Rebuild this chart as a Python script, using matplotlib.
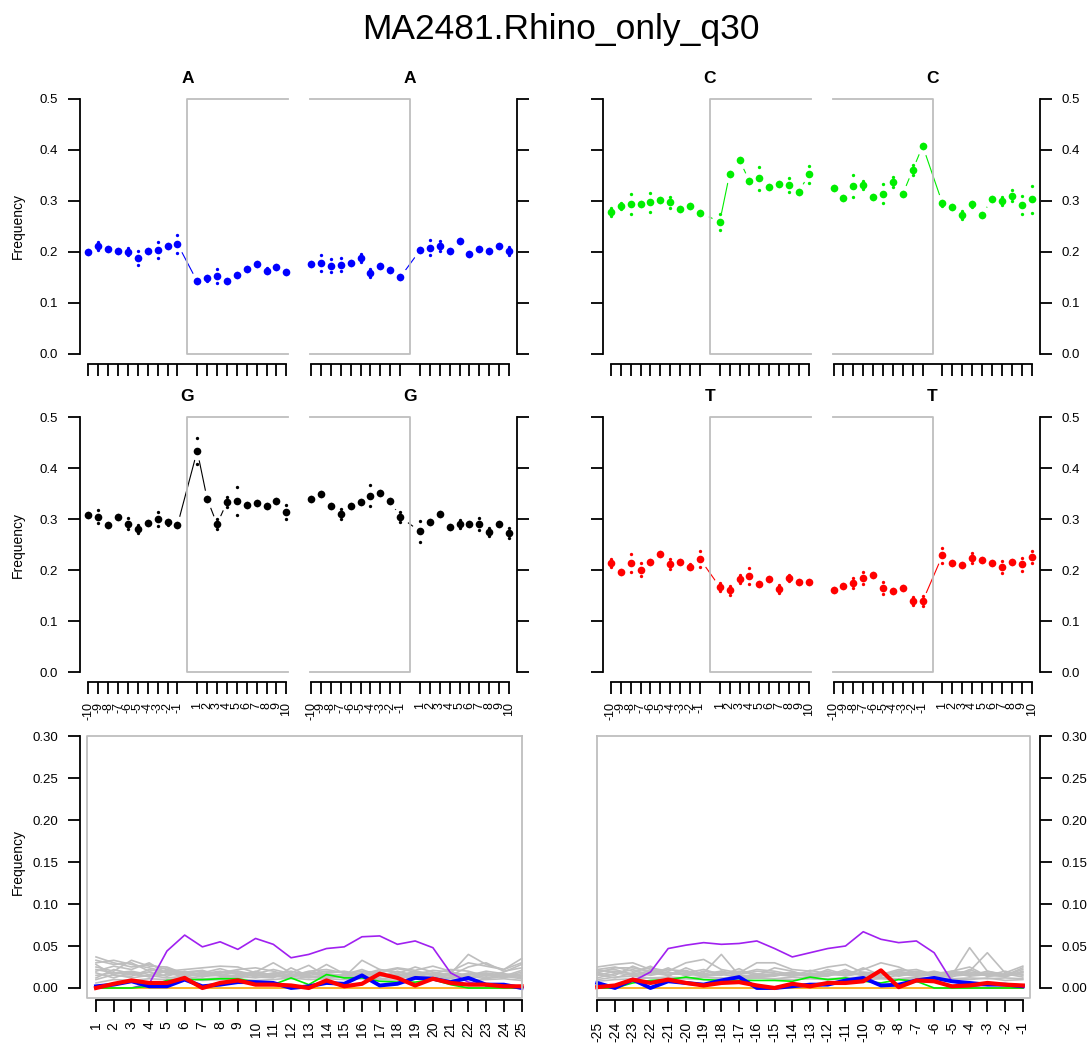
import matplotlib.pyplot as plt
import numpy as np

plt.rcParams['font.family'] = ['Liberation Sans', 'DejaVu Sans']

# ---- data: motif start / end windows (-10..-1, 1..10) ----
A_start = [0.200,0.212,0.206,0.202,0.200,0.188,0.201,0.204,0.212,0.216,
           0.142,0.148,0.152,0.143,0.154,0.167,0.176,0.163,0.171,0.161]
A_start_err = [0.004,0.008,0.004,0.004,0.007,0.013,0.004,0.016,0.004,0.018,
               0.004,0.005,0.014,0.004,0.004,0.004,0.004,0.005,0.004,0.004]
A_end = [0.176,0.178,0.173,0.175,0.178,0.188,0.159,0.173,0.164,0.150,
         0.203,0.208,0.212,0.201,0.222,0.196,0.206,0.201,0.211,0.201]
A_end_err = [0.004,0.015,0.013,0.013,0.004,0.008,0.008,0.004,0.004,0.004,
             0.004,0.015,0.010,0.004,0.004,0.004,0.004,0.004,0.004,0.008]

C_start = [0.279,0.290,0.294,0.294,0.297,0.302,0.297,0.284,0.290,0.277,
           0.259,0.353,0.380,0.339,0.344,0.328,0.333,0.331,0.318,0.352]
C_start_err = [0.008,0.006,0.020,0.004,0.018,0.004,0.011,0.004,0.004,0.004,
               0.016,0.004,0.004,0.004,0.023,0.004,0.004,0.013,0.004,0.017]
C_end = [0.326,0.305,0.329,0.331,0.308,0.314,0.337,0.314,0.361,0.408,
         0.295,0.288,0.272,0.293,0.273,0.303,0.300,0.310,0.292,0.303]
C_end_err = [0.004,0.004,0.021,0.008,0.004,0.019,0.010,0.004,0.010,0.004,
             0.004,0.004,0.008,0.004,0.004,0.004,0.008,0.011,0.018,0.027]

G_start = [0.308,0.305,0.289,0.305,0.291,0.281,0.293,0.300,0.294,0.288,
           0.434,0.340,0.290,0.333,0.336,0.327,0.331,0.325,0.336,0.314]
G_start_err = [0.004,0.012,0.004,0.004,0.011,0.008,0.004,0.013,0.005,0.004,
               0.025,0.004,0.010,0.010,0.027,0.004,0.004,0.004,0.004,0.013]
G_end = [0.339,0.349,0.325,0.310,0.325,0.333,0.346,0.351,0.336,0.304,
         0.276,0.295,0.310,0.284,0.290,0.290,0.291,0.275,0.290,0.273]
G_end_err = [0.004,0.004,0.004,0.010,0.004,0.004,0.020,0.004,0.004,0.010,
             0.020,0.004,0.004,0.004,0.008,0.004,0.012,0.008,0.004,0.010]

T_start = [0.214,0.196,0.214,0.201,0.216,0.232,0.212,0.216,0.207,0.222,
           0.167,0.160,0.182,0.188,0.172,0.182,0.163,0.185,0.177,0.176]
T_start_err = [0.008,0.004,0.017,0.012,0.004,0.004,0.010,0.004,0.004,0.015,
               0.008,0.008,0.008,0.016,0.004,0.004,0.008,0.006,0.004,0.004]
T_end = [0.161,0.169,0.175,0.184,0.190,0.165,0.159,0.165,0.139,0.139,
         0.229,0.214,0.210,0.223,0.219,0.214,0.206,0.216,0.211,0.226]
T_end_err = [0.004,0.004,0.010,0.012,0.004,0.012,0.004,0.004,0.008,0.010,
             0.015,0.004,0.004,0.010,0.004,0.004,0.012,0.004,0.013,0.012]

win_labels = [str(i) for i in range(-10, 0)] + [str(i) for i in range(1, 11)]

# ---- data: bottom panel, 25 positions after start / before end ----
after_labels = [str(i) for i in range(1, 26)]
before_labels = [str(i) for i in range(-25, 0)]

purple_after = [0.000,0.000,0.000,0.005,0.044,0.063,0.049,0.055,0.046,0.059,0.052,0.036,0.040,
                0.047,0.049,0.061,0.062,0.052,0.056,0.048,0.018,0.007,0.003,0.001,0.001]
green_after = [0.000,0.000,0.000,0.002,0.009,0.010,0.010,0.011,0.011,0.007,0.004,0.012,0.004,
               0.016,0.012,0.012,0.008,0.007,0.007,0.010,0.004,0.000,0.000,0.000,0.000]
blue_after = [0.002,0.004,0.008,0.002,0.002,0.010,0.002,0.004,0.007,0.007,0.006,0.000,0.002,
              0.006,0.005,0.015,0.003,0.005,0.012,0.011,0.007,0.012,0.004,0.004,0.000]
red_after = [0.000,0.005,0.009,0.006,0.006,0.012,0.000,0.006,0.009,0.004,0.004,0.003,0.000,
             0.009,0.002,0.005,0.017,0.012,0.003,0.011,0.006,0.004,0.004,0.002,0.002]
orange_after = [0.0] * 25

purple_before = [0.000,0.000,0.008,0.019,0.047,0.051,0.054,0.052,0.053,0.056,0.047,0.037,0.042,
                 0.047,0.050,0.067,0.058,0.054,0.056,0.042,0.008,0.002,0.000,0.000,0.000]
green_before = [0.000,0.000,0.006,0.009,0.010,0.013,0.010,0.009,0.009,0.009,0.009,0.008,0.013,
                0.010,0.012,0.008,0.006,0.010,0.008,0.000,0.000,0.000,0.000,0.000,0.000]
blue_before = [0.006,0.000,0.010,0.000,0.008,0.006,0.004,0.009,0.013,0.000,0.000,0.002,0.004,
               0.004,0.009,0.012,0.003,0.004,0.009,0.012,0.008,0.006,0.004,0.004,0.002]
red_before = [0.001,0.003,0.010,0.006,0.010,0.006,0.003,0.006,0.007,0.003,0.000,0.005,0.002,
              0.006,0.006,0.008,0.021,0.001,0.009,0.008,0.002,0.003,0.006,0.004,0.003]
orange_before = [0.0] * 25

gray_after = [
    [0.037,0.030,0.025,0.028,0.022,0.018,0.020,0.016,0.018,0.015,0.014,0.016,0.013,0.015,0.014,0.017,0.015,0.016,0.018,0.015,0.017,0.040,0.028,0.022,0.035],
    [0.030,0.033,0.028,0.024,0.019,0.015,0.017,0.020,0.016,0.019,0.030,0.018,0.027,0.014,0.013,0.033,0.022,0.017,0.025,0.019,0.015,0.025,0.030,0.020,0.024],
    [0.025,0.020,0.033,0.026,0.025,0.017,0.013,0.018,0.022,0.024,0.020,0.014,0.016,0.028,0.017,0.020,0.018,0.023,0.019,0.016,0.012,0.018,0.016,0.014,0.021],
    [0.020,0.026,0.022,0.030,0.017,0.019,0.021,0.015,0.020,0.016,0.017,0.020,0.015,0.018,0.020,0.016,0.022,0.019,0.016,0.021,0.019,0.015,0.020,0.017,0.015],
    [0.015,0.018,0.020,0.016,0.021,0.016,0.018,0.023,0.017,0.014,0.018,0.016,0.019,0.017,0.015,0.018,0.016,0.014,0.020,0.017,0.022,0.020,0.014,0.019,0.028],
    [0.012,0.022,0.017,0.019,0.014,0.020,0.015,0.017,0.013,0.020,0.015,0.013,0.017,0.020,0.018,0.014,0.013,0.020,0.014,0.013,0.016,0.013,0.017,0.012,0.017],
    [0.028,0.015,0.014,0.022,0.018,0.013,0.019,0.014,0.015,0.017,0.022,0.017,0.012,0.016,0.012,0.015,0.017,0.012,0.015,0.018,0.014,0.017,0.012,0.016,0.012],
    [0.018,0.012,0.019,0.013,0.016,0.018,0.016,0.019,0.020,0.013,0.012,0.024,0.014,0.013,0.016,0.022,0.014,0.016,0.013,0.014,0.018,0.012,0.015,0.013,0.019],
    [0.010,0.016,0.012,0.015,0.012,0.014,0.011,0.012,0.014,0.012,0.015,0.011,0.013,0.012,0.014,0.012,0.011,0.013,0.012,0.011,0.013,0.014,0.011,0.014,0.011],
    [0.033,0.028,0.030,0.020,0.024,0.016,0.014,0.015,0.012,0.016,0.013,0.015,0.018,0.015,0.013,0.013,0.015,0.014,0.017,0.012,0.012,0.016,0.018,0.015,0.014],
    [0.006,0.010,0.009,0.011,0.010,0.012,0.009,0.010,0.011,0.009,0.010,0.012,0.010,0.011,0.010,0.011,0.010,0.009,0.011,0.010,0.011,0.009,0.010,0.011,0.009],
    [0.022,0.018,0.016,0.014,0.020,0.022,0.024,0.026,0.025,0.018,0.016,0.014,0.020,0.022,0.018,0.017,0.020,0.024,0.021,0.026,0.020,0.030,0.026,0.022,0.030],
]
gray_before = [
    [0.025,0.028,0.030,0.022,0.018,0.016,0.018,0.040,0.015,0.014,0.017,0.016,0.014,0.018,0.015,0.017,0.016,0.019,0.016,0.020,0.015,0.048,0.020,0.015,0.022],
    [0.022,0.025,0.020,0.024,0.020,0.030,0.034,0.022,0.018,0.030,0.030,0.022,0.020,0.025,0.028,0.018,0.015,0.020,0.022,0.016,0.018,0.020,0.042,0.018,0.026],
    [0.018,0.015,0.026,0.018,0.022,0.020,0.015,0.018,0.017,0.022,0.020,0.016,0.018,0.016,0.017,0.022,0.030,0.025,0.016,0.018,0.017,0.015,0.020,0.016,0.018],
    [0.015,0.020,0.017,0.020,0.016,0.018,0.022,0.016,0.020,0.017,0.016,0.019,0.016,0.020,0.014,0.019,0.017,0.016,0.020,0.017,0.020,0.017,0.015,0.020,0.015],
    [0.012,0.017,0.022,0.015,0.019,0.015,0.017,0.020,0.016,0.020,0.018,0.014,0.021,0.017,0.018,0.015,0.014,0.020,0.015,0.019,0.016,0.019,0.017,0.013,0.020],
    [0.020,0.022,0.016,0.018,0.015,0.021,0.014,0.016,0.014,0.016,0.014,0.018,0.015,0.014,0.020,0.016,0.019,0.014,0.018,0.014,0.013,0.022,0.014,0.017,0.013],
    [0.010,0.013,0.014,0.012,0.013,0.012,0.013,0.012,0.013,0.012,0.011,0.013,0.012,0.011,0.012,0.013,0.012,0.011,0.013,0.012,0.011,0.012,0.011,0.012,0.011],
    [0.016,0.012,0.018,0.026,0.014,0.024,0.016,0.015,0.023,0.013,0.016,0.014,0.017,0.016,0.015,0.024,0.015,0.017,0.014,0.016,0.014,0.016,0.018,0.015,0.016],
    [0.022,0.018,0.015,0.016,0.024,0.014,0.020,0.017,0.012,0.015,0.024,0.020,0.013,0.015,0.022,0.014,0.012,0.015,0.017,0.015,0.018,0.014,0.016,0.014,0.019],
    [0.008,0.010,0.011,0.012,0.010,0.011,0.010,0.011,0.010,0.012,0.011,0.010,0.011,0.010,0.011,0.010,0.011,0.010,0.011,0.010,0.011,0.010,0.012,0.009,0.010],
    [0.018,0.024,0.024,0.020,0.016,0.018,0.013,0.020,0.014,0.012,0.015,0.017,0.014,0.022,0.016,0.018,0.016,0.022,0.019,0.014,0.020,0.025,0.014,0.015,0.024],
]

# ---- figure ----
fig = plt.figure(figsize=(10.9, 10.43), dpi=100)
fig.text(0.515, 0.972, 'MA2481.Rhino_only_q30', ha='center', va='center', fontsize=25.5)

pos_start = list(range(0, 10)) + list(range(11, 21))
pos_end = [22.5 + i for i in range(10)] + [33.5 + i for i in range(10)]
BOXC = '#BEBEBE'
LW = 1.3
TL = 8.6


def motif_half(rect, base, col, start, start_err, end, end_err, side, show_labels):
    ax = fig.add_axes(rect)
    ax.set_xlim(-0.84, 43.3)
    ax.set_ylim(-0.02, 0.52)
    for x, y, e in [(pos_start, start, start_err), (pos_end, end, end_err)]:
        y = np.array(y)
        e = np.array(e)
        ax.plot(x, y, color=col, lw=0.8, zorder=1)
        ax.plot(x, y, 'o', color='white', ms=13, mew=0, zorder=2)
        ax.plot(x, y + e, 'o', color=col, ms=2.4, mew=0, zorder=4)
        ax.plot(x, y - e, 'o', color=col, ms=2.4, mew=0, zorder=4)
        ax.plot(x, y, 'o', color=col, ms=5.5, mew=0, zorder=5)
    # motif boxes
    ax.plot([20.2, 10, 10, 20.2], [0.5, 0.5, 0, 0], color=BOXC, lw=LW, zorder=3)
    ax.plot([22.4, 32.5, 32.5, 22.4], [0.5, 0.5, 0, 0], color=BOXC, lw=LW, zorder=3)
    for s in ['top', 'bottom']:
        ax.spines[s].set_visible(False)
    for s in ['left', 'right']:
        ax.spines[s].set_bounds(0, 0.5)
        ax.spines[s].set_linewidth(LW)
    ax.set_yticks(np.arange(0, 0.51, 0.1))
    ax.set_yticklabels(['%.1f' % v for v in np.arange(0, 0.51, 0.1)])
    ax.tick_params(axis='y', left=True, right=True, direction='out', length=TL, width=LW,
                   labelsize=9.5, pad=7, labelleft=(side == 'left'), labelright=(side == 'right'))
    tr = ax.get_xaxis_transform()
    ax.plot([0, 20], [0, 0], color='k', lw=LW, transform=tr, clip_on=False)
    ax.plot([22.5, 42.5], [0, 0], color='k', lw=LW, transform=tr, clip_on=False)
    ax.set_xticks(pos_start + pos_end)
    ax.set_xticklabels(win_labels * 2, rotation=90)
    ax.tick_params(axis='x', direction='out', length=TL, width=LW, labelsize=9, pad=6,
                   labelbottom=show_labels)
    ax.text(10, 0.526, base, ha='center', va='bottom', fontsize=12.5, fontweight='bold')
    ax.text(32.5, 0.526, base, ha='center', va='bottom', fontsize=12.5, fontweight='bold')
    return ax


W = 437 / 1090
H1 = 275.2 / 1043
motif_half([80 / 1090, 1 - 364 / 1043, W, H1], 'A', '#0000FF', A_start, A_start_err, A_end, A_end_err, 'left', False)
motif_half([602.5 / 1090, 1 - 364 / 1043, W, H1], 'C', '#00EE00', C_start, C_start_err, C_end, C_end_err, 'right', False)
motif_half([80 / 1090, 1 - 682.2 / 1043, W, H1], 'G', 'black', G_start, G_start_err, G_end, G_end_err, 'left', True)
motif_half([602.5 / 1090, 1 - 682.2 / 1043, W, H1], 'T', '#FF0000', T_start, T_start_err, T_end, T_end_err, 'right', True)

for yc in [226, 545, 862]:
    fig.text(18 / 1090, 1 - yc / 1043, 'Frequency', rotation=90, ha='center', va='center', fontsize=10)

# ---- bottom panel ----
ax = fig.add_axes([80 / 1090, 1 - 1000 / 1043, 960 / 1090, 274 / 1043])
ax.set_xlim(0.0976, 54.24)
ax.set_ylim(-0.0143, 0.312)
xa = np.arange(1, 26)
xb = 29.27 + np.arange(25)
for g in gray_after:
    ax.plot(xa, g, color='#BEBEBE', lw=1.2)
for g in gray_before:
    ax.plot(xb, g, color='#BEBEBE', lw=1.2)
for x, pu, gr, bl, rd, orng in [(xa, purple_after, green_after, blue_after, red_after, orange_after),
                                 (xb, purple_before, green_before, blue_before, red_before, orange_before)]:
    ax.plot(x, pu, color='#A020F0', lw=1.2)
    ax.plot(x, orng, color='#FFA500', lw=1.2)
    ax.plot(x, gr, color='#00EE00', lw=1.2)
    ax.plot(x, bl, color='#0000FF', lw=2.8)
    ax.plot(x, rd, color='#FF0000', lw=3.0)
ax.plot([25, 0.5, 0.5, 25, 25], [0.30, 0.30, -0.012, -0.012, 0.30], color=BOXC, lw=LW)
ax.plot([29.27, 53.7, 53.7, 29.27, 29.27], [0.30, 0.30, -0.012, -0.012, 0.30], color=BOXC, lw=LW)
for s in ['top', 'bottom']:
    ax.spines[s].set_visible(False)
for s in ['left', 'right']:
    ax.spines[s].set_bounds(0, 0.3)
    ax.spines[s].set_linewidth(LW)
yt = np.arange(0, 0.301, 0.05)
ax.set_yticks(yt)
ax.set_yticklabels(['%.2f' % v for v in yt])
ax.tick_params(axis='y', left=True, right=True, direction='out', length=TL, width=LW,
               labelsize=9.5, pad=7, labelleft=True, labelright=True)
tr = ax.get_xaxis_transform()
ax.plot([1, 25], [0, 0], color='k', lw=LW, transform=tr, clip_on=False)
ax.plot([xb[0], xb[-1]], [0, 0], color='k', lw=LW, transform=tr, clip_on=False)
ax.set_xticks(list(xa) + list(xb))
ax.set_xticklabels(after_labels + before_labels, rotation=90)
ax.tick_params(axis='x', direction='out', length=TL, width=LW, labelsize=10, pad=7)

fig.savefig('out.png', dpi=100)
